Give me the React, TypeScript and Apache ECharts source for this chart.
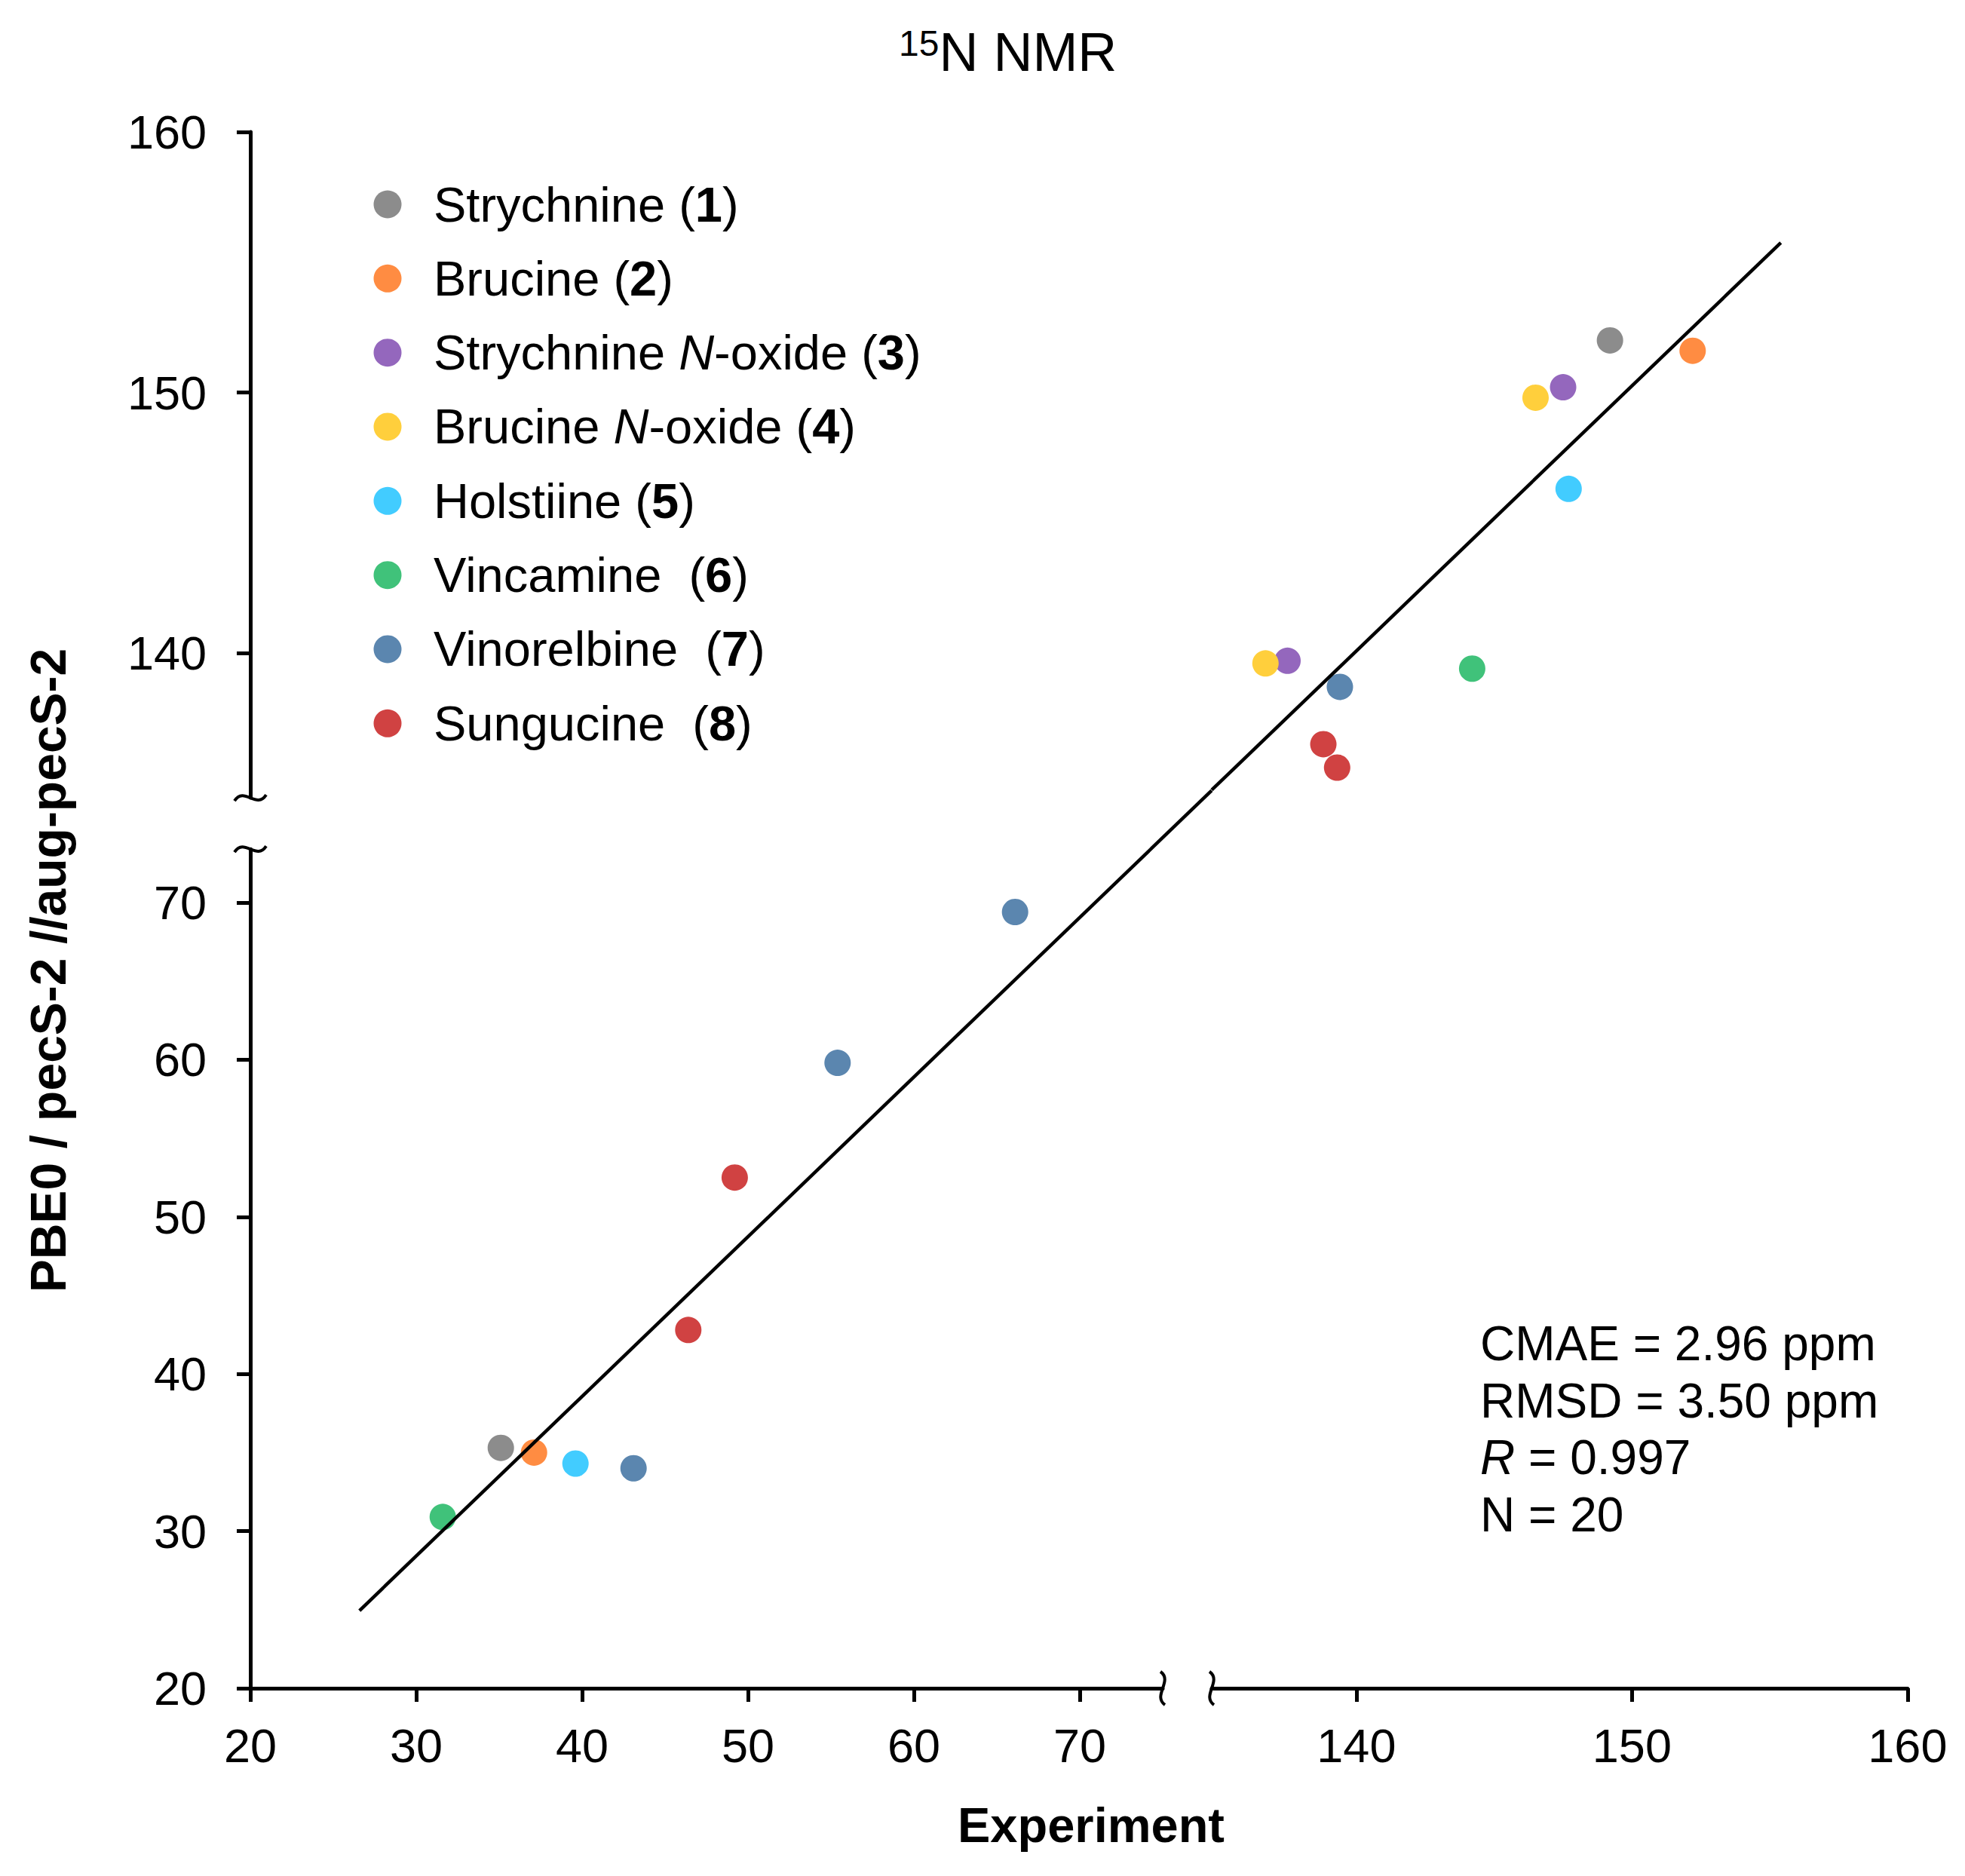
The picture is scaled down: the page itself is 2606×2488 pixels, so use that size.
import React, { useEffect, useRef } from "react";
import * as echarts from "echarts";

// ---------- data ----------
const compoundNames = [
  "Strychnine (1)",
  "Brucine (2)",
  "Strychnine N-oxide (3)",
  "Brucine N-oxide (4)",
  "Holstiine (5)",
  "Vincamine (6)",
  "Vinorelbine (7)",
  "Sungucine (8)",
];
const compoundLabels = [
  "Strychnine ({bd|1})",
  "Brucine ({bd|2})",
  "Strychnine {it|N}-oxide ({bd|3})",
  "Brucine {it|N}-oxide ({bd|4})",
  "Holstiine ({bd|5})",
  "Vincamine  ({bd|6})",
  "Vinorelbine  ({bd|7})",
  "Sungucine  ({bd|8})",
];
const compoundColors = [
  "#8c8c8c",
  "#ff8c42",
  "#9467bd",
  "#ffcf3c",
  "#42ccff",
  "#40c27a",
  "#5b86af",
  "#d04242",
];
// [experiment, calculated] pairs, low-ppm region (20–75)
const lowPoints: number[][][] = [
  [[35.1, 35.3]],
  [[37.1, 35.0]],
  [],
  [],
  [[39.6, 34.3]],
  [[31.6, 30.9]],
  [[43.1, 34.0], [55.4, 59.8], [66.1, 69.4]],
  [[49.2, 52.5], [46.4, 42.8]],
];
// [experiment, calculated] pairs, high-ppm region (135–160)
const highPoints: number[][][] = [
  [[149.2, 152.0]],
  [[152.2, 151.6]],
  [[147.5, 150.2], [137.5, 139.7]],
  [[146.5, 149.8], [136.7, 139.6]],
  [[147.7, 146.3]],
  [[144.2, 139.4]],
  [[139.4, 138.7]],
  [[138.8, 136.5], [139.3, 135.6]],
];
// regression line, drawn in each region (the low part runs on across the break)
const fitLow = [[26.58, 24.94], [77.95, 77.13]];
const fitHigh = [[134.75, 134.74], [155.4, 155.75]];

const lowTicks = [20, 30, 40, 50, 60, 70];
const highTicks = [140, 150, 160];
const lowXRange = [20, 75];
const lowYRange = [20, 73.4];
const highXRange = [134.75, 160];
const highYRange = [134.44, 160];

const statsLines = [
  "CMAE = 2.96 ppm",
  "RMSD = 3.50 ppm",
  "{it|R} = 0.997",
  "N = 20",
];

// ---------- style ----------
const FONT = "'Liberation Sans', Arial, Helvetica, sans-serif";
const FS = 63;
const LEG_FS = 65;

export default function App() {
  const ref = useRef<HTMLDivElement>(null);

  useEffect(() => {
    if (!ref.current) return;
    const chart = echarts.init(ref.current, undefined, { renderer: "svg" });

    // pixel layout
    const axisX = 332;
    const axisY = 2239;
    const pxLowX = 22.0;
    const pxLowY = 20.84;
    const pxHighX = 36.55;
    const pxHighY = 34.55;

    const gALeft = axisX;
    const gAWidth = (lowXRange[1] - lowXRange[0]) * pxLowX;
    const gAHeight = (lowYRange[1] - lowYRange[0]) * pxLowY;
    const gATop = axisY - gAHeight;

    const gBLeft = 1607;
    const gBWidth = (highXRange[1] - highXRange[0]) * pxHighX;
    const gBTop = 175;
    const gBHeight = (highYRange[1] - highYRange[0]) * pxHighY;
    const gBBottom = gBTop + gBHeight;

    const axisCommon = (ticks: number[], margin: number) => ({
      type: "value" as const,
      interval: 10,
      splitLine: { show: false },
      axisLine: { show: true, onZero: false, lineStyle: { color: "#000", width: 5 } },
      axisTick: {
        show: true,
        inside: false,
        length: 18,
        lineStyle: { color: "#000", width: 5 },
        customValues: ticks,
      },
      axisLabel: {
        show: true,
        customValues: ticks,
        margin,
        color: "#000",
        fontSize: FS,
        fontFamily: FONT,
      },
    });

    const series: any[] = [];
    compoundNames.forEach((name, i) => {
      series.push({
        name,
        type: "scatter",
        xAxisIndex: 0,
        yAxisIndex: 0,
        data: lowPoints[i],
        symbol: "circle",
        symbolSize: 35,
        itemStyle: { color: compoundColors[i], opacity: 1 },
        z: 2,
      });
      series.push({
        name,
        type: "scatter",
        xAxisIndex: 1,
        yAxisIndex: 1,
        data: highPoints[i],
        symbol: "circle",
        symbolSize: 35,
        itemStyle: { color: compoundColors[i], opacity: 1 },
        z: 2,
      });
    });
    series.push({
      name: "fitLow",
      type: "lines",
      coordinateSystem: "cartesian2d",
      xAxisIndex: 0,
      yAxisIndex: 0,
      polyline: false,
      clip: false,
      symbol: "none",
      data: [{ coords: fitLow }],
      lineStyle: { color: "#000", width: 4.5, opacity: 1, curveness: 0 },
      z: 3,
    });
    series.push({
      name: "fitHigh",
      type: "lines",
      coordinateSystem: "cartesian2d",
      xAxisIndex: 1,
      yAxisIndex: 1,
      polyline: false,
      clip: false,
      symbol: "none",
      data: [{ coords: fitHigh }],
      lineStyle: { color: "#000", width: 4.5, opacity: 1, curveness: 0 },
      z: 3,
    });

    const legendItemWidth = 112;
    const markStyle = { stroke: "#000", lineWidth: 4, fill: null as any };
    const yMark = (yc: number) => ({
      type: "bezierCurve",
      shape: {
        x1: axisX - 21, y1: yc + 4,
        cpx1: axisX - 8, cpy1: yc - 16,
        cpx2: axisX + 8, cpy2: yc + 16,
        x2: axisX + 21, y2: yc - 4,
      },
      style: markStyle,
      z: 10,
    });
    const xMark = (xc: number) => ({
      type: "bezierCurve",
      shape: {
        x1: xc - 3, y1: axisY - 22,
        cpx1: xc + 14, cpy1: axisY - 10,
        cpx2: xc - 14, cpy2: axisY + 10,
        x2: xc + 3, y2: axisY + 22,
      },
      style: markStyle,
      z: 10,
    });

    chart.setOption({
      animation: false,
      backgroundColor: "#fff",
      textStyle: { fontFamily: FONT },
      title: {
        text: "{sup|15}{main|N NMR}",
        left: 1192,
        top: 33,
        padding: 0,
        textStyle: {
          fontFamily: FONT,
          fontWeight: "normal",
          color: "#000",
          rich: {
            sup: { fontSize: 48, lineHeight: 48, verticalAlign: "top", fontFamily: FONT, color: "#000" },
            main: { fontSize: 72, lineHeight: 72, fontFamily: FONT, color: "#000" },
          },
        },
      },
      legend: {
        data: compoundNames,
        orient: "vertical",
        left: 495.5,
        top: 271 - LEG_FS / 2,
        padding: 0,
        icon: "circle",
        itemWidth: legendItemWidth,
        itemHeight: 37,
        itemGap: 98.33 - LEG_FS,
        selectedMode: false,
        formatter: (name: string) => compoundLabels[compoundNames.indexOf(name)],
        textStyle: {
          fontFamily: FONT,
          fontSize: LEG_FS,
          lineHeight: LEG_FS,
          color: "#000",
          rich: {
            bd: { fontFamily: FONT, fontSize: LEG_FS, lineHeight: LEG_FS, fontWeight: "bold", color: "#000" },
            it: { fontFamily: FONT, fontSize: LEG_FS, lineHeight: LEG_FS, fontStyle: "italic", color: "#000" },
          },
        },
      },
      grid: [
        {
          left: gALeft,
          top: gATop,
          width: gAWidth,
          height: gAHeight,
          containLabel: false,
          outerBoundsMode: "none",
        },
        {
          left: gBLeft,
          top: gBTop,
          width: gBWidth,
          height: gBHeight,
          containLabel: false,
          outerBoundsMode: "none",
        },
      ],
      xAxis: [
        {
          ...axisCommon(lowTicks, 44),
          gridIndex: 0,
          position: "bottom",
          min: lowXRange[0],
          max: lowXRange[1],
        },
        {
          ...axisCommon(highTicks, 44),
          gridIndex: 1,
          position: "bottom",
          offset: axisY - gBBottom,
          min: highXRange[0],
          max: highXRange[1],
        },
      ],
      yAxis: [
        {
          ...axisCommon(lowTicks, 58),
          gridIndex: 0,
          position: "left",
          min: lowYRange[0],
          max: lowYRange[1],
        },
        {
          ...axisCommon(highTicks, 58),
          gridIndex: 1,
          position: "left",
          offset: gBLeft - axisX,
          min: highYRange[0],
          max: highYRange[1],
        },
      ],
      graphic: [
        yMark(gBBottom),
        yMark(gATop),
        xMark(gALeft + gAWidth),
        xMark(gBLeft),
        {
          type: "text",
          x: 64,
          y: 1287,
          rotation: Math.PI / 2,
          style: {
            text: "PBE0 / pecS-2 //aug-pecS-2",
            fontFamily: FONT,
            fontSize: 66,
            fontWeight: "bold",
            fill: "#000",
            align: "center",
            verticalAlign: "middle",
          },
        },
        {
          type: "text",
          x: 1447,
          y: 2420,
          style: {
            text: "Experiment",
            fontFamily: FONT,
            fontSize: 65,
            fontWeight: "bold",
            fill: "#000",
            align: "center",
            verticalAlign: "middle",
          },
        },
        {
          type: "text",
          x: 1963,
          y: 1782 - 75.7 / 2,
          style: {
            text: statsLines.join("\n"),
            fontFamily: FONT,
            fontSize: 64,
            lineHeight: 75.7,
            fill: "#000",
            align: "left",
            verticalAlign: "top",
            rich: {
              it: { fontFamily: FONT, fontSize: 64, lineHeight: 75.7, fontStyle: "italic", fill: "#000" },
            },
          },
        },
      ],
      series,
    });

    return () => {
      chart.dispose();
    };
  }, []);

  return (
    <div
      ref={ref}
      style={{ position: "absolute", left: 0, top: 0, width: 2606, height: 2488, background: "#fff" }}
    />
  );
}
